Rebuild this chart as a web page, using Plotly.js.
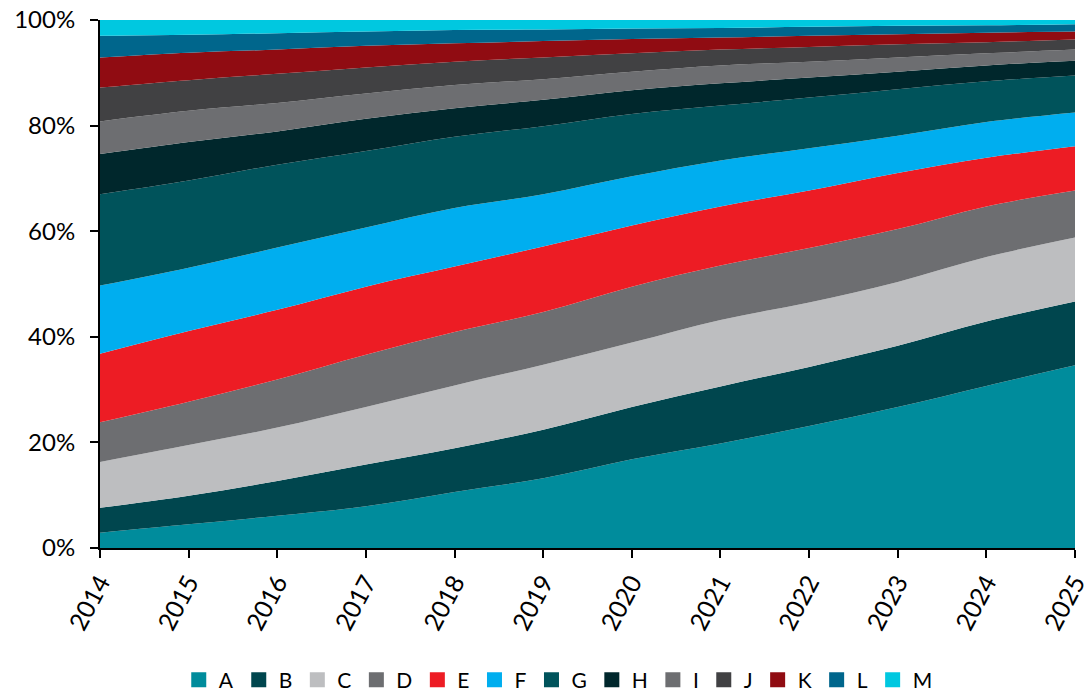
<!DOCTYPE html>
<html>
<head>
<meta charset="utf-8">
<script src="https://cdn.plot.ly/plotly-3.0.1.min.js"></script>
<style>html,body{margin:0;padding:0;background:#fff;}#chart{width:1089px;height:695px;}</style>
</head>
<body>
<div id="chart"></div>
<script>
const years = [2014, 2015, 2016, 2017, 2018, 2019, 2020, 2021, 2022, 2023, 2024, 2025];
const seriesNames = ["A", "B", "C", "D", "E", "F", "G", "H", "I", "J", "K", "L", "M"];
const A = [2.9, 4.5, 6.1, 7.9, 10.6, 13.2, 16.8, 19.8, 23.1, 26.7, 30.7, 34.6];
const B = [4.7, 5.4, 6.6, 7.9, 8.3, 9.2, 9.9, 10.8, 11.2, 11.6, 12.2, 12.1];
const C = [8.7, 9.6, 10.1, 10.9, 11.9, 12.3, 12.2, 12.6, 12.2, 12.1, 12.2, 12.1];
const D = [7.5, 8.2, 9.1, 9.9, 10.1, 10.0, 10.6, 10.3, 10.3, 10.0, 9.6, 8.9];
const E = [13.0, 13.4, 13.2, 12.9, 12.4, 12.4, 11.6, 11.2, 10.9, 10.6, 9.2, 8.4];
const F = [12.9, 12.0, 11.8, 11.2, 11.1, 9.9, 9.3, 8.7, 8.0, 7.1, 6.8, 6.4];
const G = [17.3, 16.5, 15.7, 14.5, 13.5, 12.9, 11.8, 10.4, 9.6, 8.8, 7.7, 7.0];
const H = [7.6, 7.3, 6.3, 6.1, 5.4, 5.0, 4.5, 4.2, 3.8, 3.3, 3.0, 2.8];
const I = [6.2, 5.9, 5.4, 4.8, 4.4, 3.9, 3.5, 3.4, 3.0, 2.7, 2.3, 2.1];
const J = [6.4, 5.8, 5.5, 4.9, 4.4, 4.1, 3.5, 3.0, 2.8, 2.5, 2.1, 1.9];
const K = [5.7, 5.2, 4.6, 4.1, 3.5, 3.1, 2.7, 2.3, 2.1, 1.9, 1.8, 1.5];
const L = [4.1, 3.4, 3.1, 2.7, 2.5, 2.2, 2.0, 1.8, 1.7, 1.6, 1.4, 1.4];
const M = [3.0, 2.8, 2.5, 2.2, 1.9, 1.8, 1.6, 1.5, 1.3, 1.1, 1.0, 0.8];
const yTickVals = [0, 20, 40, 60, 80, 100];
const yTickText = ["0%", "20%", "40%", "60%", "80%", "100%"];

const values = [A, B, C, D, E, F, G, H, I, J, K, L, M];
const colors = ["#008C9C", "#00464E", "#BDBEC0", "#6D6E71", "#ED1C24", "#00AEEF",
                "#00535B", "#00272C", "#6D6E71", "#414143", "#900C12", "#00668C", "#00C8E0"];

const traces = seriesNames.map((n, i) => ({
  type: "scatter",
  mode: "lines",
  name: n,
  x: years,
  y: values[i],
  stackgroup: "one",
  groupnorm: i === 0 ? "percent" : undefined,
  line: {width: 0, shape: "spline", smoothing: 1, color: colors[i]},
  fillcolor: colors[i],
  showlegend: false,
  hoverinfo: "x+y+name"
}));
// legend entries with square symbols
seriesNames.forEach((n, i) => {
  traces.push({
    type: "scatter", mode: "markers", name: n,
    x: [null], y: [null],
    marker: {symbol: "square", size: 15, color: colors[i]},
    showlegend: true, hoverinfo: "skip"
  });
});

const fontFam = "Lato, 'Open Sans', sans-serif";
const layout = {
  width: 1089, height: 695,
  margin: {l: 100, r: 14, t: 20, b: 147, autoexpand: false},
  paper_bgcolor: "#fff", plot_bgcolor: "#fff",
  showlegend: true,
  legend: {
    orientation: "h", x: 0.47, xanchor: "center", y: -0.25, yanchor: "middle",
    font: {family: fontFam, size: 21, color: "#000"},
    itemwidth: 30, traceorder: "normal"
  },
  xaxis: {
    type: "linear", range: [2014, 2025], tickmode: "array", tickvals: years,
    ticktext: years.map(String), tickangle: -62, automargin: false,
    ticklabeloverflow: "allow",
    showgrid: false, zeroline: false,
    showline: true, linecolor: "#000", linewidth: 2,
    ticks: "outside", ticklen: 8, tickwidth: 2, tickcolor: "#000",
    tickfont: {family: fontFam, size: 25, color: "#000"}
  },
  yaxis: {
    range: [0, 100], tickmode: "array", tickvals: yTickVals, ticktext: yTickText,
    automargin: false, ticklabeloverflow: "allow", ticklabelstandoff: 10,
    showgrid: false, zeroline: false,
    showline: true, linecolor: "#000", linewidth: 2,
    ticks: "outside", ticklen: 8, tickwidth: 2, tickcolor: "#000",
    tickfont: {family: fontFam, size: 24, color: "#000"}
  }
};

Plotly.newPlot("chart", traces, layout, {displayModeBar: false, staticPlot: true});
</script>
</body>
</html>
